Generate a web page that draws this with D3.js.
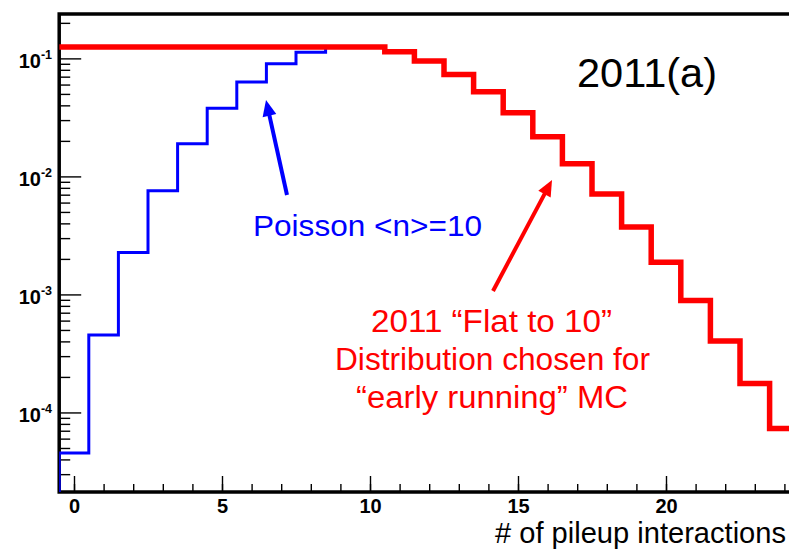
<!DOCTYPE html>
<html><head><meta charset="utf-8">
<script src="https://cdn.jsdelivr.net/npm/d3@7"></script>
<style>html,body{margin:0;padding:0;background:#fff;overflow:hidden}</style>
</head><body>
<svg id="chart" width="789" height="552"></svg>
<script>
// ---- data ----
const pileupBins = [0,1,2,3,4,5,6,7,8,9,10,11,12,13,14,15,16,17,18,19,20,21,22,23,24];
const poissonValues = [4.54e-5, 4.54e-4, 2.27e-3, 7.57e-3, 1.89e-2, 3.78e-2, 6.31e-2, 9.01e-2, 1.126e-1,
  1.251e-1, 1.251e-1, 1.137e-1, 9.48e-2, 7.29e-2, 5.21e-2, 3.47e-2, 2.17e-2, 1.28e-2, 7.09e-3,
  3.73e-3, 1.87e-3, 8.9e-4, 4.04e-4, 1.76e-4, 7.3e-5];
const flatTo10Values = [0.1251, 0.1251, 0.1251, 0.1251, 0.1251, 0.1251, 0.1251, 0.1251, 0.1251,
  0.1251, 0.1251, 0.1137, 0.0948, 0.0729, 0.0521, 0.0347, 0.0217, 0.0128, 0.00709,
  0.00373, 0.00187, 8.89e-4, 4.04e-4, 1.76e-4, 7.32e-5];
const xTickLabels = [0, 5, 10, 15, 20];
const yMajorExponents = [-1, -2, -3, -4];
const xTitle = "# of pileup interactions";
const panelLabel = "2011(a)";
const poissonLabel = "Poisson <n>=10";
const flatLabelLines = ["2011 \u201CFlat to 10\u201D", "Distribution chosen for", "\u201Cearly running\u201D MC"];

(function () {
// ---- layout ----
const svg = d3.select("#chart");
const FONT = "'Liberation Sans', Arial, Helvetica, sans-serif";
const pLeft = 59.2, pTop = 14, pBottom = 492, unit = 29.6;
const x = d3.scaleLinear().domain([-0.5, 24.5]).range([pLeft, pLeft + 25 * unit]);
const y = d3.scaleLog().domain([2.118e-5, 0.2377]).range([pBottom, pTop]);

svg.append("defs").append("clipPath").attr("id", "plotclip")
  .append("rect").attr("x", pLeft).attr("y", pTop)
  .attr("width", x(24.5) - pLeft).attr("height", pBottom - pTop);

// frame
svg.append("rect").attr("x", pLeft).attr("y", pTop)
  .attr("width", x(24.5) - pLeft).attr("height", pBottom - pTop)
  .attr("fill", "none").attr("stroke", "#000").attr("stroke-width", 3.5);

// y ticks
const allY = y.ticks();
const isMajor = v => Math.abs(Math.log10(v) - Math.round(Math.log10(v))) < 1e-6;
const yMinor = allY.filter(v => !isMajor(v));
const yMajor = yMajorExponents.map(e => Math.pow(10, e));
const gyMinor = svg.append("g").attr("transform", `translate(${pLeft},0)`)
  .call(d3.axisRight(y).tickValues(yMinor).tickSize(11).tickFormat(""));
const gyMajor = svg.append("g").attr("transform", `translate(${pLeft},0)`)
  .call(d3.axisRight(y).tickValues(yMajor).tickSize(22).tickFormat(""));
[gyMinor, gyMajor].forEach(g => { g.select(".domain").remove(); g.selectAll("line").attr("stroke", "#000").attr("stroke-width", 1.4); });

// y labels
yMajorExponents.forEach(e => {
  const t = svg.append("text").attr("x", 52).attr("y", y(Math.pow(10, e)) + 10)
    .attr("text-anchor", "end").attr("font-family", FONT).attr("font-weight", "bold")
    .attr("font-size", 20).attr("fill", "#000");
  t.append("tspan").text("10");
  t.append("tspan").attr("dy", -9.5).attr("font-size", 12.5).text(String(e));
});

// x ticks
const gxMinor = svg.append("g").attr("transform", `translate(0,${pBottom})`)
  .call(d3.axisBottom(x).tickValues(pileupBins).tickSizeInner(-8).tickSizeOuter(0).tickFormat(""));
const gxMajor = svg.append("g").attr("transform", `translate(0,${pBottom})`)
  .call(d3.axisBottom(x).tickValues(xTickLabels).tickSizeInner(-16).tickSizeOuter(0).tickFormat(d3.format("d")));
[gxMinor, gxMajor].forEach(g => { g.select(".domain").remove(); g.selectAll("line").attr("stroke", "#000").attr("stroke-width", 1.4); });
gxMajor.attr("font-family", FONT).attr("font-size", 20);
gxMajor.selectAll("text").attr("y", 21).attr("dy", 0)
  .attr("font-family", FONT).attr("font-weight", "bold").attr("font-size", 20).attr("fill", "#000");

// histograms
const step = d3.line().x(d => x(d[0])).y(d => y(d[1])).curve(d3.curveStepAfter);
function histPoints(vals, fromBase) {
  const pts = [];
  if (fromBase) pts.push([pileupBins[0] - 0.5, y.domain()[0]]);
  vals.forEach((v, i) => pts.push([pileupBins[i] - 0.5, v]));
  pts.push([pileupBins[pileupBins.length - 1] + 0.5, vals[vals.length - 1]]);
  return pts;
}
const plot = svg.append("g").attr("clip-path", "url(#plotclip)");
plot.append("path").attr("d", step(histPoints(poissonValues, true)))
  .attr("fill", "none").attr("stroke", "#0000ff").attr("stroke-width", 3).attr("stroke-linejoin", "miter");
plot.append("path").attr("d", step(histPoints(flatTo10Values, false)))
  .attr("fill", "none").attr("stroke", "#ff0000").attr("stroke-width", 5.5).attr("stroke-linejoin", "miter");

// arrows
function arrow(x1, y1, x2, y2, color) {
  const dx = x2 - x1, dy = y2 - y1, L = Math.hypot(dx, dy);
  const ux = dx / L, uy = dy / L, hl = 16, hw = 7;
  const bx = x2 - ux * hl, by = y2 - uy * hl;
  svg.append("line").attr("x1", x1).attr("y1", y1).attr("x2", bx + ux * 2).attr("y2", by + uy * 2)
    .attr("stroke", color).attr("stroke-width", 4);
  svg.append("polygon")
    .attr("points", [[x2, y2], [bx - uy * hw, by + ux * hw], [bx + uy * hw, by - ux * hw]].map(p => p.join(",")).join(" "))
    .attr("fill", color);
}
arrow(287, 195, 266, 100, "#0000ff");
arrow(493, 291, 552, 180, "#ff0000");

// texts
svg.append("text").attr("x", 577).attr("y", 87).attr("font-family", FONT).attr("font-size", 41)
  .attr("fill", "#000").attr("textLength", 140).attr("lengthAdjust", "spacingAndGlyphs").text(panelLabel);
svg.append("text").attr("x", 253).attr("y", 236).attr("font-family", FONT).attr("font-size", 30)
  .attr("fill", "#0000ff").attr("textLength", 229).attr("lengthAdjust", "spacingAndGlyphs").text(poissonLabel);
const redStarts = [371, 335, 356], redWidths = [241, 315, 272], redBase = [332, 370, 408];
flatLabelLines.forEach((s, i) => {
  svg.append("text").attr("x", redStarts[i]).attr("y", redBase[i]).attr("font-family", FONT).attr("font-size", 31)
    .attr("fill", "#ff0000").attr("textLength", redWidths[i]).attr("lengthAdjust", "spacingAndGlyphs").text(s);
});
svg.append("text").attr("x", 495).attr("y", 543).attr("font-family", FONT).attr("font-size", 29)
  .attr("fill", "#000").attr("textLength", 291).attr("lengthAdjust", "spacingAndGlyphs").text(xTitle);
})();
</script>
</body></html>
